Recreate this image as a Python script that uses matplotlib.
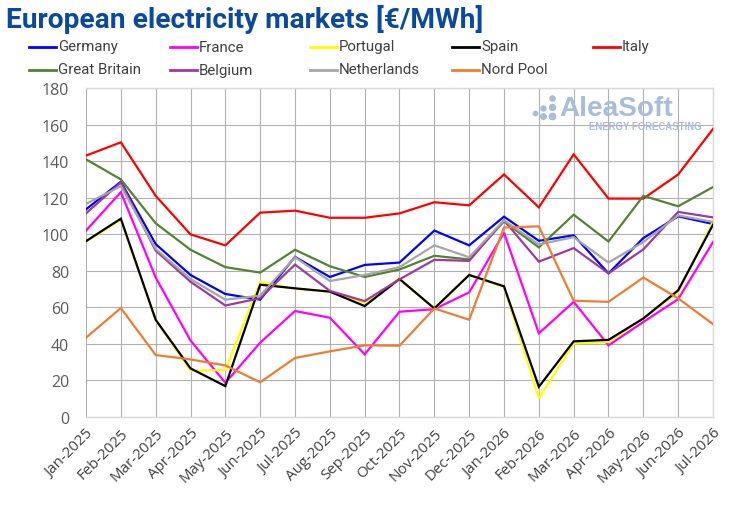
import matplotlib
matplotlib.use("Agg")
import matplotlib.pyplot as plt
from matplotlib.lines import Line2D

months = ["Jan-2025", "Feb-2025", "Mar-2025", "Apr-2025", "May-2025", "Jun-2025",
          "Jul-2025", "Aug-2025", "Sep-2025", "Oct-2025", "Nov-2025", "Dec-2025",
          "Jan-2026", "Feb-2026", "Mar-2026", "Apr-2026", "May-2026", "Jun-2026", "Jul-2026"]

germany = [113.6, 128.7, 94.6, 77.7, 67.3, 64.2, 87.6, 76.6, 83.2, 84.5, 102.0, 93.9,
           109.6, 96.4, 99.4, 78.6, 97.9, 109.8, 105.6]
france = [102.0, 123.0, 76.3, 41.8, 18.7, 40.7, 58.0, 54.3, 34.3, 57.6, 59.0, 68.2,
          100.8, 45.8, 63.0, 39.2, 52.0, 64.5, 95.7]
portugal = [96.0, 108.0, 53.0, 25.3, 25.7, 74.0, 70.0, 68.6, 62.3, 75.9, 59.0, 77.7,
            71.0, 10.3, 40.3, 41.0, 53.9, 68.2, 107.0]
spain = [96.2, 108.5, 53.2, 26.6, 16.9, 72.4, 70.4, 68.6, 60.7, 75.5, 59.4, 77.7,
         71.5, 16.5, 41.4, 42.2, 53.9, 69.3, 105.2]
italy = [143.0, 150.3, 121.0, 99.9, 93.9, 111.8, 112.9, 109.0, 109.0, 111.4, 117.5, 115.8,
         132.7, 114.7, 143.7, 119.5, 119.5, 132.7, 157.6]
great_britain = [141.0, 130.0, 106.0, 91.5, 82.0, 79.0, 91.5, 82.5, 76.6, 80.7, 88.2, 86.2,
                 107.0, 92.8, 110.7, 96.0, 121.0, 115.3, 125.8]
belgium = [111.4, 128.3, 91.0, 74.0, 61.0, 65.0, 83.4, 69.0, 63.4, 75.3, 86.0, 85.4,
           107.6, 85.0, 92.4, 78.6, 91.7, 112.2, 109.2]
netherlands = [116.6, 126.3, 92.0, 75.5, 64.2, 66.4, 87.4, 74.4, 77.7, 82.0, 93.9, 87.4,
               107.6, 94.4, 98.4, 84.5, 95.7, 110.3, 106.7]
nord_pool = [43.4, 59.6, 33.9, 31.5, 28.2, 19.0, 32.3, 35.9, 39.2, 39.0, 59.4, 53.2,
             103.7, 104.3, 63.6, 63.0, 76.3, 64.9, 50.8]

series_names = ["Germany", "France", "Portugal", "Spain", "Italy",
                "Great Britain", "Belgium", "Netherlands", "Nord Pool"]
series_values = [germany, france, portugal, spain, italy,
                 great_britain, belgium, netherlands, nord_pool]
series_colors = ["#0000FF", "#FF00FF", "#FFFF00", "#000000", "#FF0000",
                 "#548235", "#9E3A9E", "#A6A6A6", "#ED7D31"]

y_ticks = [0, 20, 40, 60, 80, 100, 120, 140, 160, 180]

sans = ["Roboto", "DejaVu Sans"]
tickfont = ["Open Sans", "DejaVu Sans"]

W, H = 730, 506
fig = plt.figure(figsize=(W / 100, H / 100), dpi=100)
ax = fig.add_axes([86 / W, 1 - 418 / H, (713 - 86) / W, (418 - 89) / H])

x = list(range(len(months)))
for name, vals, col in zip(series_names, series_values, series_colors):
    ax.plot(x, vals, color=col, lw=1.6, zorder=3, solid_joinstyle="miter")

ax.set_xlim(0, len(months) - 1)
ax.set_ylim(0, 180)
ax.set_yticks(y_ticks)
ax.set_xticks(x)
ax.set_xticklabels(months, rotation=45, ha="right", rotation_mode="anchor",
                   fontfamily=tickfont, fontsize=10.8, color="#404040")
for lab in ax.get_yticklabels():
    lab.set_fontfamily(tickfont)
ax.tick_params(axis="y", labelsize=11.5, labelcolor="#595959", length=0, pad=12)
ax.tick_params(axis="x", length=0, pad=6)
ax.grid(True, color="#B0B0B0", lw=0.8, zorder=0)
ax.set_axisbelow(True)
ax.spines["left"].set_visible(False)
for s in ["top", "right", "bottom"]:
    ax.spines[s].set_color("#D9D9D9")
    ax.spines[s].set_linewidth(1.0)

renderer = fig.canvas.get_renderer()


def fit_width(t, target_px):
    bb = t.get_window_extent(renderer)
    t.set_fontsize(t.get_fontsize() * target_px / bb.width)


# watermark
wm1 = fig.text(559 / W, 1 - 116 / H, "AleaSoft", fontsize=20,
               fontweight="bold", color="#A9BCD8", family=["Liberation Sans", "DejaVu Sans"],
               ha="left", va="baseline", zorder=1)
fit_width(wm1, 113)
wm2 = fig.text(702 / W, 1 - 130 / H, "ENERGY FORECASTING", fontsize=6.3,
               fontweight="bold", color="#A9BCD8", family=["Liberation Sans", "DejaVu Sans"],
               ha="right", va="baseline", zorder=1)
fit_width(wm2, 114)
dots = [(535, 114, 3.2), (543, 109, 3.6), (543, 117, 4.0), (552, 99, 3.8), (552, 108, 4.3), (552, 117, 4.6)]
for dx, dy, ds in dots:
    fig.add_artist(Line2D([dx / W], [1 - dy / H], marker="o", markersize=ds,
                          color="#A9BCD8", lw=0, transform=fig.transFigure))

# title
title = fig.text(6 / W, 1 - 28.5 / H, "European electricity markets [€/MWh]", fontsize=20,
                 fontweight="bold", color="#0B4A9B", family=sans,
                 ha="left", va="baseline")
fit_width(title, 477)

# legend (row-major, uniform columns)
col_x = [29, 170, 310, 452, 593]
row_y = [47.5, 70.5]
legend_texts = []
for i, (name, col) in enumerate(zip(series_names, series_colors)):
    r, c = divmod(i, 5)
    lx = col_x[c]
    ly = 1 - row_y[r] / H
    fig.add_artist(Line2D([lx / W, (lx + 27) / W], [ly, ly], color=col, lw=2,
                          transform=fig.transFigure))
    t = fig.text((lx + 29) / W, ly, name, fontsize=11, color="#404040", family=sans,
                 ha="left", va="center")
    legend_texts.append(t)
gb = legend_texts[series_names.index("Great Britain")]
bb = gb.get_window_extent(renderer)
scale = 83 / bb.width
for t in legend_texts:
    t.set_fontsize(t.get_fontsize() * scale)

fig.savefig("out.png", dpi=100)
